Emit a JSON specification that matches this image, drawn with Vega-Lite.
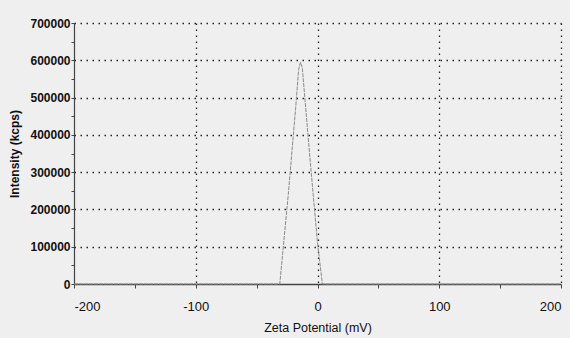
{
  "$schema": "https://vega.github.io/schema/vega-lite/v6.json",
  "width": 487,
  "height": 261,
  "autosize": "none",
  "padding": {"left": 74, "top": 23, "right": 9, "bottom": 54},
  "background": "#efefef",
  "config": {
    "view": {"stroke": null},
    "font": "Liberation Sans"
  },
  "data": {
    "values": [
      {"zeta": -200, "intensity": 0},
      {"zeta": -100, "intensity": 0},
      {"zeta": -31, "intensity": 0},
      {"zeta": -24, "intensity": 240000},
      {"zeta": -18, "intensity": 470000},
      {"zeta": -15.5, "intensity": 575000},
      {"zeta": -14, "intensity": 595000},
      {"zeta": -12.5, "intensity": 580000},
      {"zeta": -6, "intensity": 330000},
      {"zeta": 0, "intensity": 110000},
      {"zeta": 4, "intensity": 0},
      {"zeta": 100, "intensity": 0},
      {"zeta": 200, "intensity": 0}
    ]
  },
  "mark": {"type": "line", "color": "#8a8a8a", "strokeWidth": 1, "strokeDash": [4, 1]},
  "encoding": {
    "x": {
      "field": "zeta",
      "type": "quantitative",
      "scale": {"domain": [-200, 200], "nice": false, "zero": false},
      "axis": {
        "title": "Zeta Potential (mV)",
        "titleFont": "Liberation Sans",
        "titleFontSize": 12.5,
        "titleFontWeight": "normal",
        "titleColor": "#111",
        "titlePadding": 8,
        "values": [-200, -150, -100, -50, 0, 50, 100, 150, 200],
        "labelExpr": "datum.value % 100 === 0 ? replace(datum.label, '\u2212', '-') : ''",
        "labelFontSize": 13,
        "labelColor": "#111",
        "labelPadding": 12,
        "domainColor": "#444",
        "domainWidth": 1.5,
        "tickColor": "#444",
        "tickSize": 4,
        "grid": true,
        "gridColor": "#222",
        "gridDash": [1.5, 4.5],
        "gridWidth": 1.3,
        "gridOpacity": {"condition": {"test": "datum.value % 100 === 0 && datum.value !== -200", "value": 1}, "value": 0}
      }
    },
    "y": {
      "field": "intensity",
      "type": "quantitative",
      "scale": {"domain": [0, 700000], "nice": false},
      "axis": {
        "title": "Intensity (kcps)",
        "titleFont": "Liberation Sans",
        "titleFontSize": 12,
        "titleFontWeight": "bold",
        "titleColor": "#111",
        "titlePadding": 8,
        "values": [0, 50000, 100000, 150000, 200000, 250000, 300000, 350000, 400000, 450000, 500000, 550000, 600000, 650000, 700000],
        "labelExpr": "datum.value % 100000 === 0 ? format(datum.value, 'd') : ''",
        "labelFontSize": 12,
        "labelFontWeight": "bold",
        "labelColor": "#111",
        "labelPadding": 1,
        "domainColor": "#444",
        "domainWidth": 1.2,
        "tickColor": "#444",
        "tickSize": 3,
        "grid": true,
        "gridColor": "#222",
        "gridDash": [1.5, 4.5],
        "gridWidth": 1.3,
        "gridOpacity": {"condition": {"test": "datum.value % 100000 === 0 && datum.value !== 0", "value": 1}, "value": 0}
      }
    }
  }
}
